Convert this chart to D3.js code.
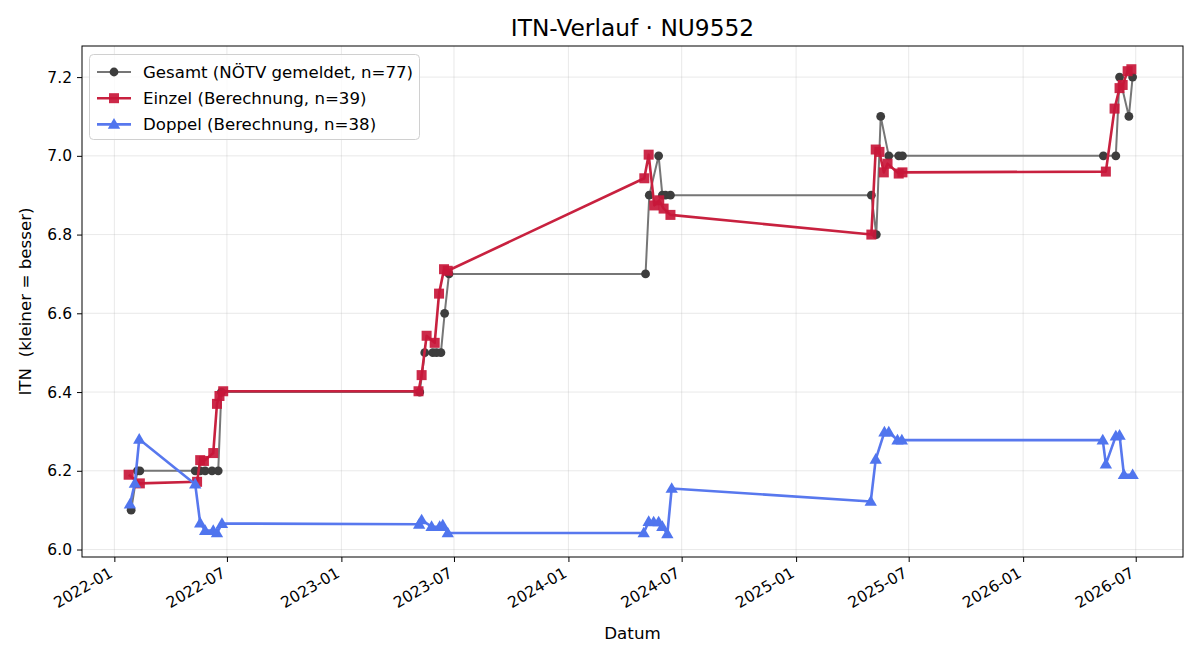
<!DOCTYPE html>
<html>
<head>
<meta charset="utf-8">
<script src="https://cdn.jsdelivr.net/npm/d3@7"></script>
<style>
body { margin: 0; background: #fff; }
text { font-family: "DejaVu Sans", sans-serif; fill: #000; }
</style>
</head>
<body>
<script>
// series: [date, ITN]
var gesamt = [
  ["2022-01-28",6.1],["2022-02-07",6.2],["2022-02-11",6.2],["2022-05-11",6.2],["2022-05-19",6.2],
  ["2022-05-27",6.2],["2022-06-07",6.2],["2022-06-17",6.2],["2022-06-22",6.4],["2023-05-07",6.4],
  ["2023-05-15",6.5],["2023-05-28",6.5],["2023-06-03",6.5],["2023-06-10",6.5],["2023-06-16",6.6],
  ["2023-06-23",6.7],["2024-05-04",6.7],["2024-05-10",6.9],["2024-05-25",7.0],["2024-05-31",6.9],
  ["2024-06-05",6.9],["2024-06-13",6.9],["2025-05-02",6.9],["2025-05-10",6.8],["2025-05-17",7.1],
  ["2025-05-30",7.0],["2025-06-15",7.0],["2025-06-21",7.0],["2026-05-10",7.0],["2026-05-30",7.0],
  ["2026-06-05",7.2],["2026-06-20",7.1],["2026-06-26",7.2]
];
var einzel = [
  ["2022-01-24",6.19],["2022-02-11",6.168],["2022-05-14",6.172],["2022-05-19",6.227],["2022-05-25",6.225],
  ["2022-06-09",6.245],["2022-06-15",6.37],["2022-06-19",6.39],["2022-06-25",6.402],["2023-05-05",6.402],
  ["2023-05-10",6.443],["2023-05-18",6.543],["2023-05-31",6.525],["2023-06-07",6.65],["2023-06-15",6.712],
  ["2023-06-21",6.708],["2024-05-02",6.943],["2024-05-09",7.003],["2024-05-18",6.874],["2024-05-26",6.887],
  ["2024-06-02",6.866],["2024-06-13",6.85],["2025-05-02",6.80],["2025-05-09",7.016],["2025-05-15",7.01],
  ["2025-05-22",6.958],["2025-05-28",6.98],["2025-06-15",6.955],["2025-06-21",6.958],["2026-05-14",6.96],
  ["2026-05-28",7.12],["2026-06-05",7.172],["2026-06-10",7.18],["2026-06-18",7.215],["2026-06-24",7.22]
];
var doppel = [
  ["2022-01-26",6.115],["2022-02-03",6.168],["2022-02-10",6.28],["2022-05-11",6.166],["2022-05-19",6.067],
  ["2022-05-27",6.048],["2022-06-09",6.048],["2022-06-15",6.042],["2022-06-23",6.066],["2023-05-06",6.064],
  ["2023-05-10",6.075],["2023-05-26",6.058],["2023-06-08",6.058],["2023-06-13",6.062],["2023-06-21",6.042],
  ["2024-05-01",6.042],["2024-05-09",6.071],["2024-05-17",6.07],["2024-05-25",6.07],["2024-05-31",6.058],
  ["2024-06-08",6.04],["2024-06-15",6.155],["2025-05-01",6.122],["2025-05-09",6.229],["2025-05-23",6.298],
  ["2025-05-30",6.298],["2025-06-13",6.278],["2025-06-20",6.278],["2026-05-09",6.278],["2026-05-14",6.217],
  ["2026-05-30",6.288],["2026-06-05",6.29],["2026-06-12",6.19],["2026-06-26",6.19]
];
var xTicks = ["2022-01","2022-07","2023-01","2023-07","2024-01","2024-07","2025-01","2025-07","2026-01","2026-07"];
var yTicks = [6.0,6.2,6.4,6.6,6.8,7.0,7.2];
var xDomain = ["2021-11-10","2026-09-15"];
var legendLabels = ["Gesamt (NÖTV gemeldet, n=77)","Einzel (Berechnung, n=39)","Doppel (Berechnung, n=38)"];

var parse = d3.timeParse("%Y-%m-%d");
var parseMonth = d3.timeParse("%Y-%m");

var W = 1200, H = 660;
var pLeft = 82, pRight = 1183, pTop = 46, pBottom = 557;

var all = gesamt.concat(einzel, doppel);
var vExt = d3.extent(all, function(d){ return d[1]; });
var vPad = (vExt[1]-vExt[0])*0.05;

var xScale = d3.scaleTime().domain(xDomain.map(parse)).range([pLeft,pRight]);
var yScale = d3.scaleLinear().domain([vExt[0]-vPad, vExt[1]+vPad]).range([pBottom,pTop]);

var series = [
  {data: gesamt, line: "#767676", mark: "#3d3d3d", lw: 2, shape: "circle"},
  {data: einzel, line: "#c8213f", mark: "#c8173a", lw: 2.6, shape: "square"},
  {data: doppel, line: "#5878ee", mark: "#5075ee", lw: 2.6, shape: "triangle"}
];

var line = d3.line()
  .x(function(d){ return xScale(parse(d[0])); })
  .y(function(d){ return yScale(d[1]); });

function drawMarker(g, shape, color, x, y){
  if (shape === "circle") {
    g.append("circle").attr("cx",x).attr("cy",y).attr("r",4.4).attr("fill",color);
  } else if (shape === "square") {
    g.append("rect").attr("x",x-5).attr("y",y-5).attr("width",10).attr("height",10)
      .attr("fill",color).attr("fill-opacity",0.92);
  } else {
    g.append("path").attr("transform","translate("+x+","+(y+0.8)+")")
      .attr("d", d3.symbol(d3.symbolTriangle, 66)()).attr("fill",color);
  }
}

var svg = d3.select("body").append("svg").attr("width",W).attr("height",H);

// grid
var grid = svg.append("g");
xTicks.forEach(function(t){
  var x = xScale(parseMonth(t));
  grid.append("line").attr("x1",x).attr("x2",x).attr("y1",pTop).attr("y2",pBottom)
    .attr("stroke","#b0b0b0").attr("stroke-opacity",0.35).attr("stroke-width",0.8);
});
yTicks.forEach(function(v){
  var y = yScale(v);
  grid.append("line").attr("x1",pLeft).attr("x2",pRight).attr("y1",y).attr("y2",y)
    .attr("stroke","#b0b0b0").attr("stroke-opacity",0.35).attr("stroke-width",0.8);
});

// series
series.forEach(function(s){
  svg.append("path").datum(s.data).attr("d",line)
    .attr("fill","none").attr("stroke",s.line).attr("stroke-width",s.lw)
    .attr("stroke-linejoin","round");
  var g = svg.append("g");
  s.data.forEach(function(d){
    drawMarker(g, s.shape, s.mark, xScale(parse(d[0])), yScale(d[1]));
  });
});

// axes
var xAxis = d3.axisBottom(xScale).tickValues(xTicks.map(parseMonth))
  .tickFormat(d3.timeFormat("%Y-%m")).tickSize(5).tickPadding(4);
var yAxis = d3.axisLeft(yScale).tickValues(yTicks)
  .tickFormat(d3.format(".1f")).tickSize(5).tickPadding(5);

var gx = svg.append("g").attr("transform","translate(0,"+pBottom+")").call(xAxis);
gx.select(".domain").remove();
gx.selectAll("line").attr("stroke","#000").attr("stroke-width",1);
gx.selectAll("text").style("font-size","15.5px").attr("text-anchor","end")
  .attr("dy",null).attr("y",null)
  .attr("transform","translate(-1,19) rotate(-30)");

var gy = svg.append("g").attr("transform","translate("+pLeft+",0)").call(yAxis);
gy.select(".domain").remove();
gy.selectAll("line").attr("stroke","#000").attr("stroke-width",1);
gy.selectAll("text").style("font-size","15.5px");

svg.append("rect").attr("x",pLeft).attr("y",pTop).attr("width",pRight-pLeft).attr("height",pBottom-pTop)
  .attr("fill","none").attr("stroke","#000").attr("stroke-width",1);

// labels
svg.append("text").attr("x",(pLeft+pRight)/2).attr("y",36).attr("text-anchor","middle")
  .style("font-size","23.3px").text("ITN-Verlauf · NU9552");
svg.append("text").attr("x",(pLeft+pRight)/2).attr("y",639).attr("text-anchor","middle")
  .style("font-size","16.7px").text("Datum");
svg.append("text").attr("transform","translate(31,"+((pTop+pBottom)/2)+") rotate(-90)")
  .attr("text-anchor","middle").style("font-size","16.7px").style("white-space","pre")
  .text("ITN  (kleiner = besser)");

// legend
var lg = svg.append("g");
lg.append("rect").attr("x",89.5).attr("y",54.5).attr("width",330).attr("height",85).attr("rx",4)
  .attr("fill","#fff").attr("fill-opacity",0.8).attr("stroke","#d0d0d0").attr("stroke-width",1);
series.forEach(function(s,i){
  var y = 72 + i*26.2;
  lg.append("line").attr("x1",97).attr("x2",131).attr("y1",y).attr("y2",y)
    .attr("stroke",s.line).attr("stroke-width",s.lw);
  drawMarker(lg, s.shape, s.mark, 114, y);
  lg.append("text").attr("x",143).attr("y",y+5.8).style("font-size","16.6px").text(legendLabels[i]);
});
</script>
</body>
</html>
